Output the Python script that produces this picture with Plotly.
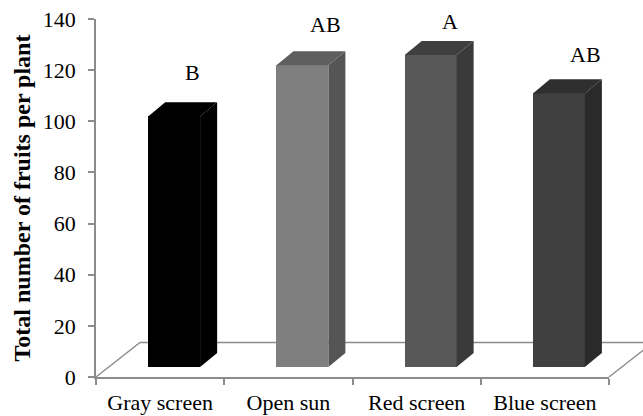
import plotly.graph_objects as go

categories = ["Gray screen", "Open sun", "Red screen", "Blue screen"]
values = [98, 118, 122, 107]
letters = ["B", "AB", "A", "AB"]
letter_x = [0.25, 1.29, 2.26, 3.32]
letter_y = [119, 137.7, 139, 126]
y_ticks = [0, 20, 40, 60, 80, 100, 120, 140]

front = ["#000000", "#7f7f7f", "#585858", "#404040"]
top = ["#000000", "#5f5f5f", "#3f3f3f", "#2f2f2f"]
side = ["#000000", "#555555", "#3a3a3a", "#2a2a2a"]

AXIS = "#8c8c8c"
FONT = "Liberation Serif"
BAR_SHIFT, BAR_W, BAR_BASE = 0.109, 0.405, 3.9
DX, DY = 0.133, 5.5
FLOOR_DX, FLOOR_DY = 0.343, 13.5
Y_MAX = 140
pos = list(range(len(categories)))
left, right = pos[0] - 0.5, pos[-1] + 0.5

fig = go.Figure()

# floor outline: fractions of the axes, so it may run past the plot area
def fx(x):
    return (x - left) / (right - left)

def fy(y):
    return y / Y_MAX

floor_path = (f"M {fx(left)} {fy(0)} L {fx(left + FLOOR_DX)} {fy(FLOOR_DY)} "
              f"L {fx(right + FLOOR_DX)} {fy(FLOOR_DY)} L {fx(right)} {fy(0)}")
fig.add_shape(type="path", path=floor_path, xref="paper", yref="paper",
              layer="below", line=dict(color=AXIS, width=1.4))

centers = [p + BAR_SHIFT for p in pos]
fig.add_trace(go.Bar(
    x=centers, y=values, base=BAR_BASE, width=BAR_W,
    marker=dict(color=front, line=dict(width=0)), showlegend=False,
))

for c, v, t, s in zip(centers, values, top, side):
    x0, x1 = c - BAR_W / 2, c + BAR_W / 2
    yb, yt = BAR_BASE, BAR_BASE + v
    fig.add_trace(go.Scatter(
        x=[x1, x1 + DX, x1 + DX, x1, x1], y=[yb, yb + DY, yt + DY, yt, yb],
        mode="lines", fill="toself", fillcolor=s, line=dict(width=0),
        hoverinfo="skip", showlegend=False,
    ))
    fig.add_trace(go.Scatter(
        x=[x0, x0 + DX, x1 + DX, x1, x0], y=[yt, yt + DY, yt + DY, yt, yt],
        mode="lines", fill="toself", fillcolor=t, line=dict(width=0),
        hoverinfo="skip", showlegend=False,
    ))

for x, y, s in zip(letter_x, letter_y, letters):
    fig.add_annotation(x=x, y=y, text=s, showarrow=False, xref="x", yref="y",
                       font=dict(family=FONT, size=22, color="#000000"))

fig.update_layout(
    width=643, height=416, margin=dict(l=96, r=34, t=19, b=39, pad=0),
    paper_bgcolor="white", plot_bgcolor="rgba(0,0,0,0)", showlegend=False, bargap=0,
    font=dict(family=FONT, size=22, color="#000000"),
    xaxis=dict(
        range=[left, right], tickvals=pos, ticktext=categories, ticks="",
        ticklabelstandoff=5, showgrid=False, zeroline=False, automargin=False,
        showline=True, linecolor=AXIS, linewidth=1.5,
        tickfont=dict(family=FONT, size=22),
        minor=dict(tickvals=[p - 0.5 for p in pos] + [right], ticks="outside",
                   ticklen=6, tickcolor=AXIS, tickwidth=1.5, showgrid=False),
    ),
    yaxis=dict(
        range=[0, Y_MAX], tickvals=y_ticks, ticks="outside", ticklen=6,
        tickcolor=AXIS, tickwidth=1.5, showgrid=False, zeroline=False, automargin=False,
        showline=True, linecolor=AXIS, linewidth=1.5, ticklabelstandoff=8,
        tickfont=dict(family=FONT, size=22),
        title=dict(text="<b>Total number of fruits per plant</b>", standoff=5,
                   font=dict(family=FONT, size=24)),
    ),
)

fig.write_html("out.html", config=dict(displayModeBar=False),
               post_script="document.body.style.margin='0';")
